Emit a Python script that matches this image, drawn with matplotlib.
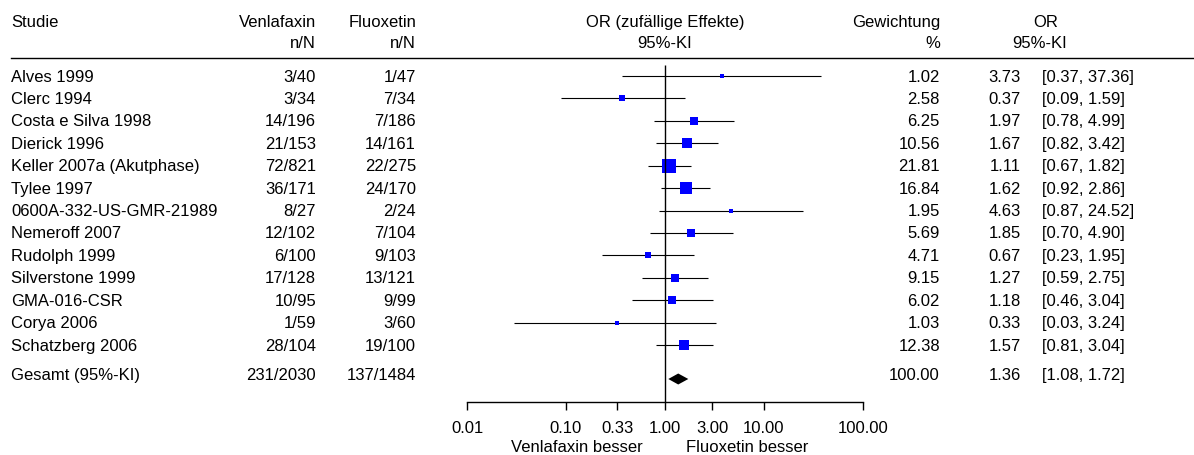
import matplotlib
matplotlib.use('Agg')
import matplotlib.pyplot as plt
from matplotlib.transforms import blended_transform_factory
from matplotlib.lines import Line2D
import numpy as np

plt.rcParams['font.family'] = ['Liberation Sans', 'DejaVu Sans']
plt.rcParams['font.size'] = 12

# Daten
studien = ['Alves 1999', 'Clerc 1994', 'Costa e Silva 1998', 'Dierick 1996',
           'Keller 2007a (Akutphase)', 'Tylee 1997', '0600A-332-US-GMR-21989',
           'Nemeroff 2007', 'Rudolph 1999', 'Silverstone 1999', 'GMA-016-CSR',
           'Corya 2006', 'Schatzberg 2006']
ven_n = [3, 3, 14, 21, 72, 36, 8, 12, 6, 17, 10, 1, 28]
ven_N = [40, 34, 196, 153, 821, 171, 27, 102, 100, 128, 95, 59, 104]
flu_n = [1, 7, 7, 14, 22, 24, 2, 7, 9, 13, 9, 3, 19]
flu_N = [47, 34, 186, 161, 275, 170, 24, 104, 103, 121, 99, 60, 100]
gewicht = [1.02, 2.58, 6.25, 10.56, 21.81, 16.84, 1.95, 5.69, 4.71, 9.15, 6.02, 1.03, 12.38]
or_wert = [3.73, 0.37, 1.97, 1.67, 1.11, 1.62, 4.63, 1.85, 0.67, 1.27, 1.18, 0.33, 1.57]
ki_unten = [0.37, 0.09, 0.78, 0.82, 0.67, 0.92, 0.87, 0.70, 0.23, 0.59, 0.46, 0.03, 0.81]
ki_oben = [37.36, 1.59, 4.99, 3.42, 1.82, 2.86, 24.52, 4.90, 1.95, 2.75, 3.04, 3.24, 3.04]

gesamt_label = 'Gesamt (95%-KI)'
gesamt_ven = '231/2030'
gesamt_flu = '137/1484'
gesamt_gewicht = 100.00
gesamt_or = 1.36
gesamt_ki = [1.08, 1.72]

achse_ticks = [0.01, 0.10, 0.33, 1.00, 3.00, 10.00, 100.00]
achse_labels = ['0.01', '0.10', '0.33', '1.00', '3.00', '10.00', '100.00']

W, H = 1194, 456
fig = plt.figure(figsize=(W / 100, H / 100), dpi=100)

# Forest-Achse (Pixelpositionen)
px_links, px_rechts = 467, 863
px_oben, px_unten = 59, 403
ax = fig.add_axes([px_links / W, 1 - px_unten / H, (px_rechts - px_links) / W, (px_unten - px_oben) / H])
ax.set_xscale('log')
ax.set_xlim(0.01, 100)
zeile = 22.42
y_oben = (px_oben - 77) / zeile
y_unten = (px_unten - 77) / zeile
ax.set_ylim(y_unten, y_oben)

y_studien = np.arange(len(studien))
y_gesamt = (380 - 77) / zeile

# Konfidenzintervalle
ax.hlines(y_studien, ki_unten, ki_oben, color='black', lw=0.8)
# Boxen proportional zu sqrt(Gewichtung)
for y, o, w in zip(y_studien, or_wert, gewicht):
    seite_px = 2.7 * np.sqrt(w) + 0.8
    ax.plot(o, y, marker='s', color='#0000ff', markersize=seite_px * 0.72, markeredgewidth=0, ls='none')

# Raute fuer Gesamt
dh = 0.245
ax.fill([gesamt_ki[0], gesamt_or, gesamt_ki[1], gesamt_or],
        [y_gesamt, y_gesamt - dh, y_gesamt, y_gesamt + dh], color='black', lw=0)

# Null-Linie
ax.vlines(1, -0.5, y_unten, color='black', lw=1)

for s in ['top', 'right', 'left']:
    ax.spines[s].set_visible(False)
ax.spines['bottom'].set_linewidth(1)
ax.set_yticks([])
ax.xaxis.set_minor_locator(matplotlib.ticker.NullLocator())
ax.set_xticks(achse_ticks)
ax.set_xticklabels(achse_labels)
ax.tick_params(axis='x', length=6, width=1, pad=7, labelsize=12)

tr = blended_transform_factory(fig.transFigure, ax.transData)
def fx(px):
    return px / W

# Kopfzeile
y_k1 = (22 - 77) / zeile
y_k2 = (43 - 77) / zeile
ax.text(fx(11), y_k1, 'Studie', transform=tr, ha='left', va='center')
ax.text(fx(316), y_k1, 'Venlafaxin', transform=tr, ha='right', va='center')
ax.text(fx(316), y_k2, 'n/N', transform=tr, ha='right', va='center')
ax.text(fx(416), y_k1, 'Fluoxetin', transform=tr, ha='right', va='center')
ax.text(fx(416), y_k2, 'n/N', transform=tr, ha='right', va='center')
ax.text(fx(665), y_k1, 'OR (zufällige Effekte)', transform=tr, ha='center', va='center')
ax.text(fx(665), y_k2, '95%-KI', transform=tr, ha='center', va='center')
ax.text(fx(940), y_k1, 'Gewichtung', transform=tr, ha='right', va='center')
ax.text(fx(940), y_k2, '%', transform=tr, ha='right', va='center')
ax.text(fx(1046), y_k1, 'OR', transform=tr, ha='center', va='center')
ax.text(fx(1040), y_k2, '95%-KI', transform=tr, ha='center', va='center')
fig.add_artist(Line2D([fx(11), fx(1193)], [1 - 59 / H, 1 - 59 / H], color='black', lw=1))

# Tabellenzeilen
for i, name in enumerate(studien):
    ax.text(fx(11), i, name, transform=tr, ha='left', va='center')
    ax.text(fx(316), i, f'{ven_n[i]}/{ven_N[i]}', transform=tr, ha='right', va='center')
    ax.text(fx(416), i, f'{flu_n[i]}/{flu_N[i]}', transform=tr, ha='right', va='center')
    ax.text(fx(940), i, f'{gewicht[i]:.2f}', transform=tr, ha='right', va='center')
    ax.text(fx(1021), i, f'{or_wert[i]:.2f}', transform=tr, ha='right', va='center')
    ax.text(fx(1042), i, f'[{ki_unten[i]:.2f}, {ki_oben[i]:.2f}]', transform=tr, ha='left', va='center')

yg = (376 - 77) / zeile
ax.text(fx(11), yg, gesamt_label, transform=tr, ha='left', va='center')
ax.text(fx(316), yg, gesamt_ven, transform=tr, ha='right', va='center')
ax.text(fx(416), yg, gesamt_flu, transform=tr, ha='right', va='center')
ax.text(fx(940), yg, f'{gesamt_gewicht:.2f}', transform=tr, ha='right', va='center')
ax.text(fx(1021), yg, f'{gesamt_or:.2f}', transform=tr, ha='right', va='center')
ax.text(fx(1042), yg, f'[{gesamt_ki[0]:.2f}, {gesamt_ki[1]:.2f}]', transform=tr, ha='left', va='center')

# Beschriftung unter der Achse
fig.text(fx(643), 1 - 448 / H, 'Venlafaxin besser', ha='right', va='center')
fig.text(fx(686), 1 - 448 / H, 'Fluoxetin besser', ha='left', va='center')

fig.savefig('out.png', dpi=100)
